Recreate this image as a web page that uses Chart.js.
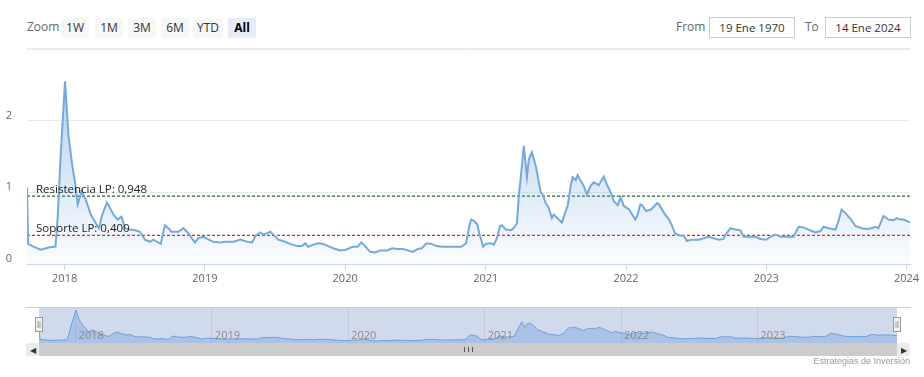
<!DOCTYPE html>
<html>
<head>
<meta charset="utf-8">
<script src="https://cdn.jsdelivr.net/npm/chart.js@4.4.0/dist/chart.umd.min.js"></script>
<style>
  body { margin: 0; background: #fff; width: 924px; height: 377px; overflow: hidden; position: relative; font-family: "Open Sans", sans-serif; }
  .abs { position: absolute; }
  .lbl { color: #666; font-size: 12px; line-height: 20px; top: 17px; }
  .btn { top: 18px; height: 20px; line-height: 20px; background: #f7f7f7; color: #333; font-size: 12px; text-align: center; }
  .btn.on { background: #e6ebf5; font-weight: bold; color: #000; }
  .inp { top: 17px; height: 19px; line-height: 19px; border: 1px solid #ccc; color: #333; font-size: 11.5px; text-align: center; }
  #sep { left: 27px; top: 48px; width: 884px; height: 1px; background: #eee; }
  #mainWrap { left: 0; top: 0; }
  #navWrap { left: 0; top: 300px; }
  #navTop { left: 26px; top: 307px; width: 885px; height: 1px; background: #ccc; }
  .sbBtn { top: 343px; width: 13px; height: 13px; background: #ebebeb; color: #333; font-size: 8px; line-height: 13px; text-align: center; }
  #sbTrack { left: 39px; top: 343px; width: 858px; height: 13px; background: #cccccc; }
  #grip { left: 464px; top: 347px; width: 7px; height: 5px; border-left: 1px solid #555; border-right: 1px solid #555; }
  #grip::after { content: ""; position: absolute; left: 3px; top: 0; width: 1px; height: 5px; background: #555; }
  #credits { right: 14px; top: 356px; font-size: 9px; color: #999; font-family: "Liberation Sans", sans-serif; }
</style>
</head>
<body>
  <div class="abs lbl" style="left:27px;">Zoom</div>
  <div class="abs btn" style="left:61px;width:28px;">1W</div>
  <div class="abs btn" style="left:95px;width:28px;">1M</div>
  <div class="abs btn" style="left:128px;width:28px;">3M</div>
  <div class="abs btn" style="left:161px;width:28px;">6M</div>
  <div class="abs btn" style="left:193px;width:30px;">YTD</div>
  <div class="abs btn on" style="left:228px;width:28px;">All</div>
  <div class="abs lbl" style="left:676px;">From</div>
  <div class="abs inp" style="left:709px;width:84px;">19 Ene 1970</div>
  <div class="abs lbl" style="left:805px;">To</div>
  <div class="abs inp" style="left:825px;width:84px;">14 Ene 2024</div>
  <div class="abs" id="sep"></div>

  <div class="abs" id="mainWrap"><canvas id="mainChart" width="924" height="292"></canvas></div>

  <div class="abs" id="navWrap"><canvas id="navChart" width="924" height="45"></canvas></div>
  <div class="abs" id="navTop"></div>
  <div class="abs sbBtn" style="left:26px;">&#9664;</div>
  <div class="abs" id="sbTrack"></div>
  <div class="abs" id="grip"></div>
  <div class="abs sbBtn" style="left:897px;">&#9654;</div>
  <div class="abs" id="credits">Estrategias de Inversión</div>

<script>
const dates = [
  '2017-09-25', '2017-09-28', '2017-10-13', '2017-10-31', '2017-11-20', '2017-12-03', '2017-12-08',
  '2017-12-14', '2017-12-22', '2018-01-02', '2018-01-11', '2018-01-21', '2018-01-29', '2018-02-04',
  '2018-02-14', '2018-02-26', '2018-03-10', '2018-03-22', '2018-03-31', '2018-04-09', '2018-04-21',
  '2018-05-08', '2018-05-19', '2018-05-29', '2018-06-07', '2018-06-20', '2018-07-03', '2018-07-16',
  '2018-07-29', '2018-08-11', '2018-08-20', '2018-09-02', '2018-09-08', '2018-09-19', '2018-09-28',
  '2018-10-06', '2018-10-24', '2018-11-06', '2018-11-19', '2018-12-06', '2018-12-15', '2018-12-28',
  '2019-01-07', '2019-01-23', '2019-02-10', '2019-02-23', '2019-03-16', '2019-04-03', '2019-04-21',
  '2019-05-04', '2019-05-12', '2019-05-25', '2019-06-02', '2019-06-12', '2019-06-20', '2019-06-28',
  '2019-07-11', '2019-07-29', '2019-08-11', '2019-08-29', '2019-09-11', '2019-09-19', '2019-09-27',
  '2019-10-10', '2019-10-23', '2019-11-05', '2019-11-18', '2019-12-01', '2019-12-19', '2020-01-02',
  '2020-01-20', '2020-02-02', '2020-02-12', '2020-02-22', '2020-03-06', '2020-03-19', '2020-04-01',
  '2020-04-19', '2020-05-02', '2020-05-15', '2020-05-30', '2020-06-12', '2020-06-25', '2020-07-08',
  '2020-07-18', '2020-07-31', '2020-08-13', '2020-08-26', '2020-09-10', '2020-09-23', '2020-10-11',
  '2020-10-29', '2020-11-11', '2020-11-19', '2020-11-24', '2020-12-02', '2020-12-10', '2020-12-15',
  '2020-12-25', '2021-01-01', '2021-01-14', '2021-01-22', '2021-01-30', '2021-02-07', '2021-02-12',
  '2021-02-22', '2021-03-07', '2021-03-15', '2021-03-23', '2021-03-28', '2021-04-05', '2021-04-10',
  '2021-04-18', '2021-04-23', '2021-05-01', '2021-05-11', '2021-05-19', '2021-05-24', '2021-05-29',
  '2021-06-06', '2021-06-14', '2021-06-22', '2021-06-27', '2021-07-10', '2021-07-18', '2021-07-28',
  '2021-08-02', '2021-08-10', '2021-08-15', '2021-08-23', '2021-08-28', '2021-09-05', '2021-09-13',
  '2021-09-21', '2021-10-01', '2021-10-09', '2021-10-22', '2021-11-04', '2021-11-12', '2021-11-22',
  '2021-11-30', '2021-12-10', '2021-12-18', '2021-12-26', '2022-01-09', '2022-01-25', '2022-01-30',
  '2022-02-07', '2022-02-12', '2022-02-22', '2022-03-07', '2022-03-23', '2022-03-28', '2022-04-10',
  '2022-04-23', '2022-05-01', '2022-05-08', '2022-05-19', '2022-06-01', '2022-06-08', '2022-06-21',
  '2022-07-09', '2022-07-22', '2022-08-04', '2022-08-17', '2022-08-30', '2022-09-12', '2022-09-17',
  '2022-09-30', '2022-10-13', '2022-10-26', '2022-11-03', '2022-11-16', '2022-12-04', '2022-12-17',
  '2023-01-01', '2023-01-12', '2023-01-25', '2023-02-07', '2023-02-23', '2023-03-13', '2023-03-26',
  '2023-04-08', '2023-04-21', '2023-05-09', '2023-05-22', '2023-05-30', '2023-06-12', '2023-06-30',
  '2023-07-08', '2023-07-16', '2023-07-26', '2023-08-08', '2023-08-21', '2023-09-06', '2023-09-19',
  '2023-10-02', '2023-10-12', '2023-10-20', '2023-11-02', '2023-11-15', '2023-11-28', '2023-12-06',
  '2023-12-16', '2023-12-24', '2024-01-10'
];
const values = [
  1.07, 0.28, 0.24, 0.20, 0.23, 0.24, 0.24,
  0.66, 1.56, 2.55, 1.79, 1.37, 1.10, 0.83,
  1.02, 0.88, 0.69, 0.58, 0.50, 0.69, 0.86,
  0.69, 0.62, 0.66, 0.50, 0.48, 0.47, 0.45,
  0.34, 0.31, 0.34, 0.30, 0.28, 0.54, 0.50,
  0.45, 0.45, 0.50, 0.43, 0.30, 0.36, 0.38,
  0.35, 0.31, 0.30, 0.31, 0.31, 0.34, 0.31,
  0.30, 0.39, 0.44, 0.41, 0.43, 0.45, 0.41,
  0.34, 0.31, 0.28, 0.25, 0.25, 0.29, 0.24,
  0.27, 0.29, 0.28, 0.25, 0.22, 0.19, 0.20,
  0.24, 0.24, 0.30, 0.25, 0.17, 0.16, 0.19,
  0.19, 0.22, 0.21, 0.21, 0.19, 0.17, 0.21,
  0.22, 0.29, 0.28, 0.25, 0.24, 0.24, 0.24,
  0.24, 0.29, 0.53, 0.62, 0.60, 0.55, 0.43,
  0.24, 0.28, 0.29, 0.27, 0.36, 0.53, 0.54,
  0.48, 0.47, 0.50, 0.57, 0.95, 1.37, 1.65,
  1.21, 1.46, 1.56, 1.37, 1.14, 1.00, 0.97,
  0.85, 0.78, 0.64, 0.69, 0.62, 0.58, 0.74,
  0.81, 1.09, 1.21, 1.17, 1.24, 1.16, 1.09,
  0.97, 1.09, 1.14, 1.10, 1.22, 1.11, 1.00,
  0.88, 0.82, 0.93, 0.81, 0.76, 0.62, 0.67,
  0.83, 0.82, 0.74, 0.76, 0.85, 0.83, 0.71,
  0.62, 0.53, 0.43, 0.40, 0.39, 0.32, 0.34,
  0.34, 0.36, 0.38, 0.36, 0.34, 0.35, 0.41,
  0.50, 0.48, 0.47, 0.38, 0.38, 0.38, 0.35,
  0.34, 0.38, 0.41, 0.38, 0.38, 0.38, 0.52,
  0.51, 0.48, 0.44, 0.46, 0.52, 0.50, 0.48,
  0.60, 0.76, 0.71, 0.63, 0.53, 0.50, 0.49,
  0.50, 0.52, 0.50, 0.67, 0.62, 0.61, 0.64,
  0.62, 0.62, 0.58
];
const yearTicks = [2018, 2019, 2020, 2021, 2022, 2023, 2024];
const navYearTicks = [2018, 2019, 2020, 2021, 2022, 2023];
const yTicks = [0, 1, 2, 3];
const levelNames = ['Resistencia LP', 'Soporte LP'];
const levelValues = [0.948, 0.400];
const levelColors = ['#1e6e1e', '#e0202b'];

const toMs = d => {
  const [y, m, dd] = d.split('-').map(Number);
  return Date.UTC(y, m - 1, dd);
};
const points = dates.map((d, i) => ({ x: toMs(d), y: values[i] }));
const xMin = points[0].x;
const xMax = points[points.length - 1].x;
const yearLabel = v => new Date(v).getUTCFullYear();

function areaFill(ctx, top, bottom) {
  const chart = ctx.chart;
  const area = chart.chartArea;
  if (!area) return 'rgba(124,181,236,0.3)';
  const g = chart.ctx.createLinearGradient(0, area.top, 0, area.bottom);
  g.addColorStop(0, `rgba(110,165,225,${top})`);
  g.addColorStop(1, `rgba(110,165,225,${bottom})`);
  return g;
}

// plot line captions, placed through the y scale
const levelLabels = {
  id: 'levelLabels',
  afterDatasetsDraw(chart) {
    const { ctx, chartArea, scales } = chart;
    ctx.save();
    ctx.font = '11.5px "Open Sans"';
    ctx.fillStyle = '#222';
    ctx.textBaseline = 'alphabetic';
    levelValues.forEach((v, i) => {
      const text = `${levelNames[i]}: ${v.toFixed(3).replace('.', ',')}`;
      ctx.fillText(text, chartArea.left + 9, scales.y.getPixelForValue(v) - 3);
    });
    ctx.restore();
  }
};

const levelSets = levelValues.map((v, i) => ({
  data: [{ x: xMin, y: v }, { x: xMax, y: v }],
  borderColor: levelColors[i],
  borderWidth: 1.2,
  borderDash: [3, 2],
  pointRadius: 0,
  fill: false
}));

new Chart(document.getElementById('mainChart'), {
  type: 'line',
  data: {
    datasets: [{
      data: points,
      borderColor: '#76a9da',
      borderWidth: 2,
      pointRadius: 0,
      tension: 0,
      fill: 'origin',
      backgroundColor: ctx => areaFill(ctx, 0.6, 0.03)
    }, ...levelSets]
  },
  options: {
    responsive: false,
    animation: false,
    devicePixelRatio: 1,
    layout: { padding: { left: 0, right: 14, top: 49, bottom: 0 } },
    plugins: { legend: { display: false }, tooltip: { enabled: false } },
    scales: {
      x: {
        type: 'linear',
        min: xMin,
        max: xMax,
        afterBuildTicks: s => { s.ticks = yearTicks.map(y => ({ value: Date.UTC(y, 0, 1) })); },
        afterFit: s => { s.height = 28; },
        grid: { drawOnChartArea: false, drawTicks: true, tickLength: 6, color: '#ccd6eb' },
        border: { color: '#ccd6eb' },
        ticks: {
          callback: yearLabel,
          color: '#666',
          font: { family: 'Open Sans', size: 11 },
          padding: 2,
          maxRotation: 0,
          autoSkip: false
        }
      },
      y: {
        min: 0,
        max: 3,
        afterBuildTicks: s => { s.ticks = yTicks.map(v => ({ value: v })); },
        afterFit: s => { s.width = 27; },
        grid: { color: '#e9e9e9', drawTicks: false },
        border: { display: false },
        ticks: {
          callback: v => (v === 3 ? '' : v),
          color: '#666',
          font: { family: 'Open Sans', size: 11 },
          padding: 15,
          labelOffset: -5
        }
      }
    }
  },
  plugins: [levelLabels]
});

const navExtras = {
  id: 'navExtras',
  beforeDatasetsDraw(chart) {
    const { ctx, chartArea: a } = chart;
    ctx.save();
    ctx.fillStyle = 'rgba(102,133,194,0.3)';
    ctx.fillRect(a.left, a.top, a.right - a.left, a.bottom - a.top);
    ctx.restore();
  },
  afterDatasetsDraw(chart) {
    const { ctx, scales } = chart;
    ctx.save();
    ctx.font = '11px "Open Sans"';
    ctx.fillStyle = '#8a8a8a';
    ctx.textBaseline = 'alphabetic';
    navYearTicks.forEach(y => {
      ctx.fillText(String(y), scales.x.getPixelForValue(Date.UTC(y, 0, 1)) + 3, 39);
    });
    ctx.restore();
  },
  afterDraw(chart) {
    const { ctx, chartArea: a } = chart;
    ctx.save();
    [a.left, a.right].forEach(x => {
      const hx = Math.round(x) - 3.5;
      ctx.fillStyle = '#f2f2f2';
      ctx.strokeStyle = '#999';
      ctx.lineWidth = 1;
      ctx.fillRect(hx, 17.5, 7, 14);
      ctx.strokeRect(hx, 17.5, 7, 14);
      ctx.beginPath();
      ctx.moveTo(hx + 2.5, 21); ctx.lineTo(hx + 2.5, 28);
      ctx.moveTo(hx + 4.5, 21); ctx.lineTo(hx + 4.5, 28);
      ctx.stroke();
    });
    ctx.restore();
  }
};

new Chart(document.getElementById('navChart'), {
  type: 'line',
  data: {
    datasets: [{
      data: points,
      borderColor: '#6d9fd6',
      borderWidth: 1,
      pointRadius: 0,
      tension: 0,
      fill: 'origin',
      backgroundColor: 'rgba(100,150,220,0.35)'
    }]
  },
  options: {
    responsive: false,
    animation: false,
    devicePixelRatio: 1,
    layout: { padding: { left: 39, right: 27, top: 7, bottom: 0 } },
    plugins: { legend: { display: false }, tooltip: { enabled: false } },
    scales: {
      x: {
        type: 'linear',
        min: xMin,
        max: xMax,
        afterBuildTicks: s => { s.ticks = navYearTicks.map(y => ({ value: Date.UTC(y, 0, 1) })); },
        afterFit: s => { s.height = 2; },
        grid: { drawOnChartArea: true, drawTicks: false, color: 'rgba(0,0,0,0.09)' },
        border: { display: false },
        ticks: { display: false }
      },
      y: { display: false, min: 0, max: 2.8 }
    }
  },
  plugins: [navExtras]
});
</script>
</body>
</html>
